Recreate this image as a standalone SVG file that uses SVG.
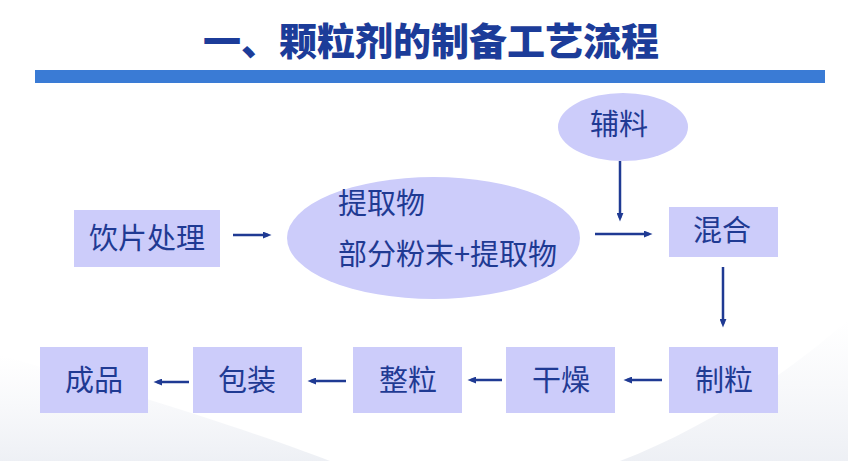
<svg xmlns="http://www.w3.org/2000/svg" width="848" height="461" viewBox="0 0 848 461">
  <defs>
    <marker id="ah" viewBox="0 0 10 8" refX="6" refY="4" markerWidth="9" markerHeight="7" markerUnits="userSpaceOnUse" orient="auto">
      <path d="M0,0 L10,4 L0,8 z" fill="#1f3a93"/>
    </marker>
    <linearGradient id="sw" x1="0" y1="0" x2="0" y2="1">
      <stop offset="0" stop-color="#eef0f5" stop-opacity="0"/>
      <stop offset="1" stop-color="#e9ecf2" stop-opacity="1"/>
    </linearGradient>
  </defs>
  <style>
    .box { fill: #ccccfa; }
    .ell { fill: #ccccfa; }
    .t { font-family: "Noto Sans CJK SC", "Noto Sans", sans-serif; font-size: 29px; fill: #1f3a93; }
    .c { text-anchor: middle; }
    .title { font-family: "Noto Sans CJK SC", "Noto Sans", sans-serif; font-size: 38px; font-weight: 900; fill: #1c3c99; text-anchor: middle; }
    .arr { stroke: #1f3a93; stroke-width: 2.5; fill: none; marker-end: url(#ah); }
  </style>

  <rect width="848" height="461" fill="#ffffff"/>
  <!-- faint background swooshes -->
  <path d="M0,355 C120,390 250,430 330,461 L0,461 Z" fill="url(#sw)" opacity="0.8"/>
  <path d="M848,320 C780,380 700,430 620,461 L848,461 Z" fill="url(#sw)" opacity="0.8"/>

  <g id="title">
    <text class="title" x="431" y="55">一、颗粒剂的制备工艺流程</text>
    <rect x="35" y="70" width="790" height="13" fill="#3a7bd5"/>
  </g>

  <g id="n-yinpian">
    <rect class="box" x="74" y="210" width="146" height="57"/>
    <text class="t c" x="147" y="249">饮片处理</text>
  </g>

  <g id="n-tiquwu">
    <ellipse class="ell" cx="433.5" cy="238" rx="146.5" ry="61"/>
    <text class="t" x="338" y="214">提取物</text>
    <text class="t" x="338" y="265">部分粉末+提取物</text>
  </g>

  <g id="n-fuliao">
    <ellipse class="ell" cx="623" cy="127" rx="65" ry="34"/>
    <text class="t c" x="619" y="135">辅料</text>
  </g>

  <g id="n-hunhe">
    <rect class="box" x="669" y="207" width="109" height="50"/>
    <text class="t c" x="722" y="241">混合</text>
  </g>

  <g id="n-zhili">
    <rect class="box" x="669" y="347" width="109" height="66"/>
    <text class="t c" x="724" y="391">制粒</text>
  </g>

  <g id="n-ganzao">
    <rect class="box" x="506" y="347" width="109" height="66"/>
    <text class="t c" x="561" y="391">干燥</text>
  </g>

  <g id="n-zhengli">
    <rect class="box" x="353" y="347" width="109" height="66"/>
    <text class="t c" x="408" y="391">整粒</text>
  </g>

  <g id="n-baozhuang">
    <rect class="box" x="193" y="347" width="109" height="66"/>
    <text class="t c" x="247" y="391">包装</text>
  </g>

  <g id="n-chengpin">
    <rect class="box" x="40" y="347" width="108" height="66"/>
    <text class="t c" x="94" y="391">成品</text>
  </g>

  <g id="connectors">
    <line class="arr" x1="233" y1="235" x2="268" y2="235"/>
    <line class="arr" x1="620" y1="161" x2="620" y2="218"/>
    <line class="arr" x1="595" y1="234" x2="649" y2="234"/>
    <line class="arr" x1="723" y1="267" x2="723" y2="324"/>
    <line class="arr" x1="662" y1="380" x2="627" y2="380"/>
    <line class="arr" x1="502" y1="380" x2="471" y2="380"/>
    <line class="arr" x1="346" y1="381" x2="311" y2="381"/>
    <line class="arr" x1="189" y1="382" x2="157" y2="382"/>
  </g>
</svg>
